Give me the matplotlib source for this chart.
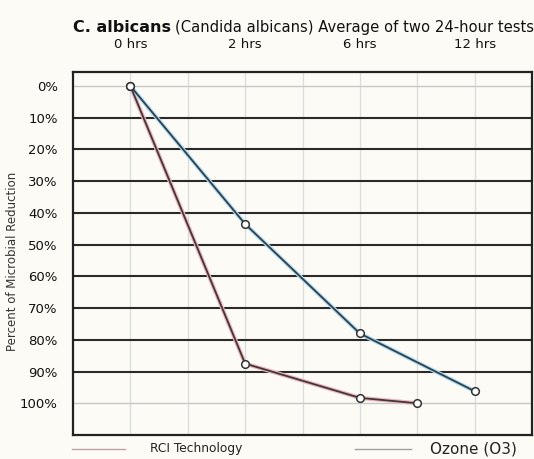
import matplotlib.pyplot as plt
from matplotlib.lines import Line2D

# Datos
# ========================================
hours = ['0 hrs', '2 hrs', '6 hrs', '12 hrs']
hour_pos = [0, 1, 2, 3]

rci_x = [0, 1, 2, 2.5]
rci_y = [0, 87.5, 98.3, 100]

ozone_x = [0, 1, 2, 3]
ozone_y = [0, 43.5, 78, 96.2]

pct_ticks = [0, 10, 20, 30, 40, 50, 60, 70, 80, 90, 100]
pct_labels = [f'{p}%' for p in pct_ticks]

font = ['DejaVu Sans']
bg = '#fcfbf6'

fig = plt.figure(figsize=(5.34, 4.59), dpi=100, facecolor=bg)
ax = fig.add_axes([0.1367, 0.0523, 0.8596, 0.7907], facecolor=bg)

# Rejilla
for p in pct_ticks:
    if p in (0, 100):
        ax.axhline(p, color='#c8c8c8', lw=1.0, zorder=1)
    else:
        ax.axhline(p, color='#2a2a2a', lw=1.5, zorder=1)
for x in [0, 0.5, 1, 1.5, 2, 2.5, 3]:
    ax.axvline(x, color='#dcdcdc', lw=0.9, zorder=0)

# Series (sombra de color + línea oscura)
ax.plot(rci_x, rci_y, color='#f2b4bb', lw=3.0, zorder=2, solid_capstyle='round')
ax.plot(rci_x, rci_y, color='#3a3a3a', lw=1.3, zorder=3)
ax.plot(ozone_x, ozone_y, color='#b0dcf2', lw=3.0, zorder=2, solid_capstyle='round')
ax.plot(ozone_x, ozone_y, color='#2f3f4a', lw=1.3, zorder=3)
ax.plot(rci_x, rci_y, 'o', ms=5.5, mfc='white', mec='#333333', mew=1.1, zorder=4)
ax.plot(ozone_x, ozone_y, 'o', ms=5.5, mfc='white', mec='#333333', mew=1.1, zorder=4)

ax.set_xlim(-0.5, 3.5)
ax.set_ylim(110, -4.4)

ax.xaxis.tick_top()
ax.set_xticks(hour_pos)
ax.set_xticklabels(hours, fontsize=9.5, family=font, color='#111111')
ax.set_yticks(pct_ticks)
ax.set_yticklabels(pct_labels, fontsize=9.5, family=font, color='#111111')
ax.tick_params(axis='y', length=0, pad=11)
ax.tick_params(axis='x', length=0, pad=15)

for s in ax.spines.values():
    s.set_color('#222222')
    s.set_linewidth(1.6)

fig.text(0.024, 0.43, 'Percent of Microbial Reduction', rotation=90,
         ha='center', va='center', fontsize=8.5, family=font, color='#333333')

# Título
t1 = fig.text(0.136, 0.93, 'C. albicans', fontsize=11.5, fontweight='bold',
              family=font, color='#111111', va='baseline')
fig.canvas.draw()
bb = t1.get_window_extent()
fig.text(bb.x1 / fig.bbox.width + 0.008, 0.93,
         '(Candida albicans) Average of two 24-hour tests',
         fontsize=10.6, family=font, color='#111111', va='baseline')

# Leyenda
fig.lines.append(Line2D([0.135, 0.235], [0.022, 0.022], transform=fig.transFigure,
                        color='#c0a0a0', lw=1.0))
fig.text(0.28, 0.022, 'RCI Technology', fontsize=8.8, family=font,
         color='#222222', va='center')
fig.lines.append(Line2D([0.665, 0.77], [0.022, 0.022], transform=fig.transFigure,
                        color='#a0a0a0', lw=1.0))
fig.text(0.805, 0.022, 'Ozone (O3)', fontsize=11, family=font,
         color='#222222', va='center')

fig.savefig('out.png', dpi=100, facecolor=bg)
